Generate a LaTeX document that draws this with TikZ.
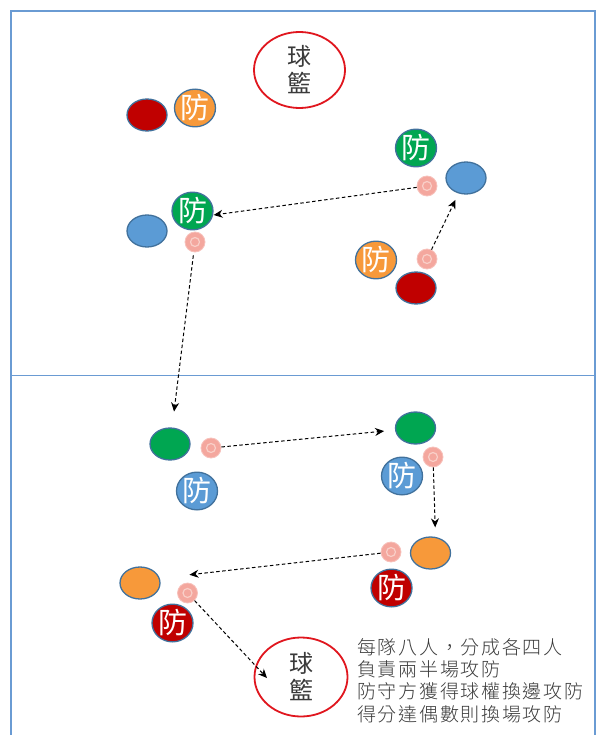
\documentclass[tikz,border=0pt]{standalone}
\usepackage{fontspec}
\newfontfamily\cjk{Noto Sans CJK TC}
\newfontfamily\cjkwide[LetterSpace=9]{Noto Sans CJK TC Light}
\usepackage{tikz}
\usetikzlibrary{arrows.meta,shapes.geometric}
\definecolor{frameblue}{HTML}{6A9BD3}
\definecolor{outl}{HTML}{41719C}
\definecolor{pred}{HTML}{C00000}
\definecolor{porange}{HTML}{F7993A}
\definecolor{pgreen}{HTML}{00A651}
\definecolor{pblue}{HTML}{5B9BD5}
\definecolor{ballpink}{HTML}{F4A79E}
\definecolor{balllight}{HTML}{F9CFC8}
\definecolor{basketred}{HTML}{E0161E}
\definecolor{textgray}{HTML}{3A3A3A}

\begin{document}
\begin{tikzpicture}[
  x=1pt, y=-1pt,
  every node/.style={font=\cjk},
  player/.style={draw=outl, line width=1.3pt, ellipse, minimum width=40pt, minimum height=32pt, inner sep=0pt},
  defender/.style={player, text=white, font=\cjk\fontsize{29}{29}\selectfont},
  ball/.style={circle, fill=ballpink, draw=ballpink!70!white, line width=0.8pt, minimum size=20pt, inner sep=0pt,
    path picture={\draw[balllight, line width=1.2pt] (path picture bounding box.center) circle[radius=4.5pt];}},
  basket/.style={draw=basketred, line width=1.8pt, ellipse, fill=white, minimum width=91pt, minimum height=76pt,
    inner sep=0pt, align=center, text=textgray, font=\cjk\fontsize{24}{27}\selectfont},
  pass/.style={-{Stealth[length=9pt,width=8pt]}, dash pattern=on 3.5pt off 2.5pt, line width=1pt},
]
\useasboundingbox (0,0) rectangle (599,735);
\draw[frameblue, line width=2.6pt] (11,735) -- (11,11) -- (595,11) -- (595,735);
\draw[frameblue, line width=1pt] (11,375) -- (595,375);

% upper half
\node[basket] (basketA) at (299.5,70) {球\\籃};
\node[player, fill=pred] (redA) at (147,115) {};
\node[defender, fill=porange] (defA) at (195,108) {防};
\node[defender, fill=pgreen] (defB) at (416,148) {防};
\node[ball] (ballA) at (427,186) {};
\node[player, fill=pblue] (blueA) at (466,178) {};
\node[defender, fill=pgreen] (defC) at (192.5,211) {防};
\node[player, fill=pblue] (blueB) at (147,231) {};
\node[ball] (ballB) at (195,242) {};
\node[defender, fill=porange] (defD) at (376,260) {防};
\node[ball] (ballC) at (427,259) {};
\node[player, fill=pred] (redB) at (416,288) {};

% lower half
\node[player, fill=pgreen] (greenA) at (170,444) {};
\node[ball] (ballD) at (211,448) {};
\node[defender, fill=pblue] (defE) at (197,491) {防};
\node[player, fill=pgreen] (greenB) at (415.5,428) {};
\node[ball] (ballE) at (433,457) {};
\node[defender, fill=pblue] (defF) at (402,476) {防};
\node[player, fill=porange] (orangeA) at (430.5,553) {};
\node[ball] (ballF) at (391,552) {};
\node[defender, fill=pred] (defG) at (391.5,588) {防};
\node[player, fill=porange] (orangeB) at (140,583) {};
\node[ball] (ballG) at (187.5,593) {};
\node[defender, fill=pred] (defH) at (172.5,623) {防};
\node[basket, minimum width=93pt, minimum height=79pt] (basketB) at (301,677) {球\\籃};
\coordinate (shot) at (267,678);

\draw[pass] (ballA) -- ([yshift=-4pt]defC.east);
\draw[pass, shorten >=7pt] (ballC) -- (blueA);
\draw[pass, shorten <=3pt, shorten >=16pt] (ballB) -- (greenA);
\draw[pass, shorten >=11pt] (ballD) -- (greenB);
\draw[pass, shorten >=9pt] (ballE) -- ([xshift=5pt]orangeA.north);
\draw[pass, shorten >=2pt] (ballF) -- ([yshift=18pt]ballG.center);
\draw[pass] (ballG) -- (shot);

\node[anchor=north west, align=left, text=textgray, inner sep=0pt,
  font=\cjkwide\fontsize{19}{22.3}\selectfont] (rules) at (357,638)
  {每隊八人，分成各四人\\負責兩半場攻防\\防守方獲得球權換邊攻防\\得分達偶數則換場攻防};
\end{tikzpicture}
\end{document}
